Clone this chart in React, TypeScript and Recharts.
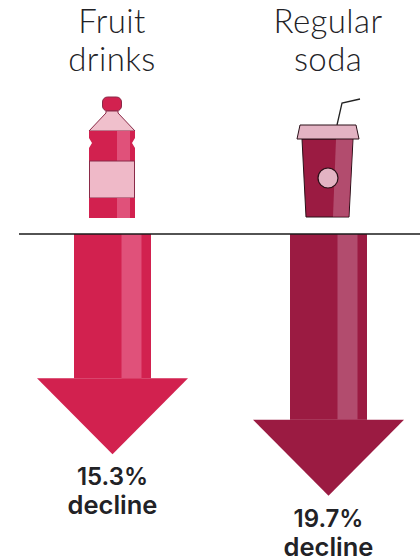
import { BarChart, Bar, XAxis, YAxis, LabelList } from 'recharts';

const categories = ['Fruit drinks', 'Regular soda'];
const declines = [15.3, 19.7];
const barColors = ['#d2214f', '#9b1b42'];
const stripeColors = ['#e0517a', '#b24c6e'];

const chartData = categories.map((name, i) => ({
  name,
  decline: declines[i],
  color: barColors[i],
  stripe: stripeColors[i],
}));

const HEAD_HEIGHT = 76;
const HEAD_WIDTH = 151;
const INK = '#222226';

// Bar length is the shaft; the head is a fixed size past the value
const ArrowBar = (props: any) => {
  const { x, y, width, height, color, stripe } = props;
  const cx = x + width / 2;
  const top = Math.min(y, y + height);
  const end = Math.max(y, y + height);
  return (
    <g>
      <rect x={x} y={top} width={width} height={end - top} fill={color} />
      <rect x={cx + 9} y={top} width={20} height={end - top} fill={stripe} />
      <polygon
        points={`${cx - HEAD_WIDTH / 2},${end} ${cx + HEAD_WIDTH / 2},${end} ${cx},${end + HEAD_HEIGHT}`}
        fill={color}
      />
    </g>
  );
};

const ArrowLabel = (props: any) => {
  const { x, y, width, height, value } = props;
  const cx = x + width / 2;
  const tip = Math.max(y, y + height) + HEAD_HEIGHT;
  return (
    <text
      textAnchor="middle"
      fontFamily="Inter, sans-serif"
      fontWeight={600}
      fontSize={24}
      fill={INK}
    >
      <tspan x={cx} y={tip + 31}>{value}%</tspan>
      <tspan x={cx} y={tip + 60} fontSize={25.5}>decline</tspan>
    </text>
  );
};

const Bottle = () => (
  <g stroke="#8a2a48" strokeWidth={1}>
    <rect x={-9.5} y={-137} width={19} height={14} rx={5} fill="#d2214f" />
    <path d="M-6,-123 L6,-123 L6,-121 L23,-103 L-23,-103 L-6,-121 Z" fill="#f0c0cc" />
    <path
      d="M-23,-103 L23,-103 L23,-96 L20,-91 L23,-86 L23,-73 L-23,-73 L-23,-86 L-20,-91 L-23,-96 Z"
      fill="#d2214f"
      stroke="none"
    />
    <rect x={5} y={-103} width={13} height={30} fill="#e0517a" stroke="none" />
    <rect x={-22.5} y={-73} width={45} height={37} fill="#efb9c8" />
    <rect x={-23} y={-36} width={46} height={20} fill="#d2214f" stroke="none" />
    <rect x={5} y={-36} width={13} height={20} fill="#e0517a" stroke="none" />
  </g>
);

const Cup = () => (
  <g>
    <path d="M9,-109 L14,-131 L32,-135" fill="none" stroke="#222" strokeWidth={1.3} />
    <path d="M-26,-95 L25,-95 L21,-17 L-22,-17 Z" fill="#9b1b42" stroke="#2a1018" strokeWidth={1} />
    <path d="M8,-95 L24.5,-95 L20.5,-17.5 L5,-17.5 Z" fill="#b24c6e" />
    <path d="M-31,-95 L-28,-109 L28,-109 L31,-95 Z" fill="#e3b3c3" stroke="#2a1018" strokeWidth={1} />
    <circle cx={0} cy={-56} r={10} fill="#e3b3c3" stroke="#2a1018" strokeWidth={1.2} />
  </g>
);

const icons = [Bottle, Cup];

// Top axis tick: the two-line category name with its icon beneath
const CategoryTick = (props: any) => {
  const { x, y, payload } = props;
  const [first, second] = payload.value.split(' ');
  const Icon = icons[payload.index];
  return (
    <g transform={`translate(${x},${y})`}>
      <text
        textAnchor="middle"
        fontFamily="Lato, sans-serif"
        fontWeight={300}
        fontSize={33}
        letterSpacing={0.4}
        fill={INK}
      >
        <tspan x={0} y={-201}>{first}</tspan>
        <tspan x={0} y={-163}>{second}</tspan>
      </text>
      <Icon />
    </g>
  );
};

export default function App() {
  return (
    <div style={{ position: 'absolute', left: 0, top: 0, width: 420, height: 558, overflow: 'hidden', background: '#fff' }}>
      <BarChart
        width={420}
        height={558}
        data={chartData}
        margin={{ top: 204, right: 0, bottom: 41, left: 19 }}
        barSize={77}
      >
        <XAxis
          dataKey="name"
          orientation="top"
          height={30}
          padding={{ left: -15, right: -16 }}
          axisLine={{ stroke: '#1a1a1a', strokeWidth: 1.5 }}
          tickLine={false}
          tick={<CategoryTick />}
          tickMargin={0}
          tickSize={0}
          interval={0}
        />
        <YAxis type="number" domain={[0, 30]} reversed hide />
        <Bar dataKey="decline" shape={<ArrowBar />} isAnimationActive={false}>
          <LabelList dataKey="decline" content={<ArrowLabel />} />
        </Bar>
      </BarChart>
    </div>
  );
}
